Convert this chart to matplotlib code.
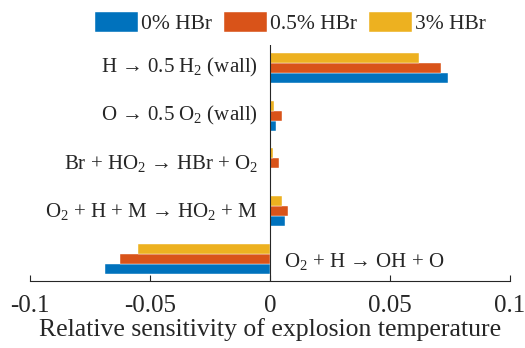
import matplotlib
matplotlib.use("Agg")
import matplotlib.pyplot as plt
import numpy as np

plt.rcParams['font.family'] = ['Liberation Serif', 'DejaVu Serif']
plt.rcParams['mathtext.fontset'] = 'custom'
plt.rcParams['mathtext.rm'] = 'Liberation Serif'
plt.rcParams['mathtext.it'] = 'Liberation Serif:italic'
plt.rcParams['text.color'] = '#262626'
plt.rcParams['xtick.color'] = '#262626'
plt.rcParams['axes.labelcolor'] = '#262626'

reactions = ['O$_2$ + H → OH + O',
             'O$_2$ + H + M → HO$_2$ + M',
             'Br + HO$_2$ → HBr + O$_2$',
             'O → 0.5 O$_2$ (wall)',
             'H → 0.5 H$_2$ (wall)']
series = ['0% HBr', '0.5% HBr', '3% HBr']
hbr0 = [-0.0688, 0.0064, 0.0, 0.0025, 0.0740]
hbr05 = [-0.0624, 0.0075, 0.0037, 0.0051, 0.0711]
hbr3 = [-0.0549, 0.0050, 0.0011, 0.0017, 0.0621]
colors = ['#0072BD', '#D95319', '#EDB120']
xticks = [-0.1, -0.05, 0, 0.05, 0.1]
xticklabels = ['-0.1', '-0.05', '0', '0.05', '0.1']

fig = plt.figure(figsize=(5.25, 3.48), dpi=100)
ax = fig.add_axes([0.0571, 0.1925, 0.9143, 0.6782])

y = np.arange(len(reactions))
h = 0.21
for i, (vals, lab, c) in enumerate(zip([hbr0, hbr05, hbr3], series, colors)):
    ax.barh(y + (i - 1) * h, vals, height=h, color=c, label=lab,
            edgecolor='white', linewidth=0.3)

ax.set_xlim(-0.1, 0.1)
ax.set_ylim(-0.46, 4.48)
ax.axvline(0, color='#262626', lw=0.8)
for s in ['top', 'right', 'left']:
    ax.spines[s].set_visible(False)
ax.spines['bottom'].set_linewidth(0.8)
ax.spines['bottom'].set_color('#262626')
ax.set_xticks(xticks)
ax.set_xticklabels(xticklabels, fontsize=18)
ax.tick_params(axis='x', direction='in', length=4, width=0.8, pad=10)
ax.set_yticks([])
for yi, lab in zip(y[1:], reactions[1:]):
    ax.text(-0.005, yi, lab, ha='right', va='center', fontsize=15)
ax.text(0.006, y[0] - 0.05, reactions[0], ha='left', va='center', fontsize=15)
ax.set_xlabel('Relative sensitivity of explosion temperature', fontsize=18.5, labelpad=1)

fig.legend(loc='center', bbox_to_anchor=(0.553, 0.934), ncol=3, frameon=False,
           fontsize=15.5, handlelength=2.0, handleheight=1.1, handletextpad=0.15,
           columnspacing=0.55, borderpad=0)

fig.savefig('out.png', dpi=100)
